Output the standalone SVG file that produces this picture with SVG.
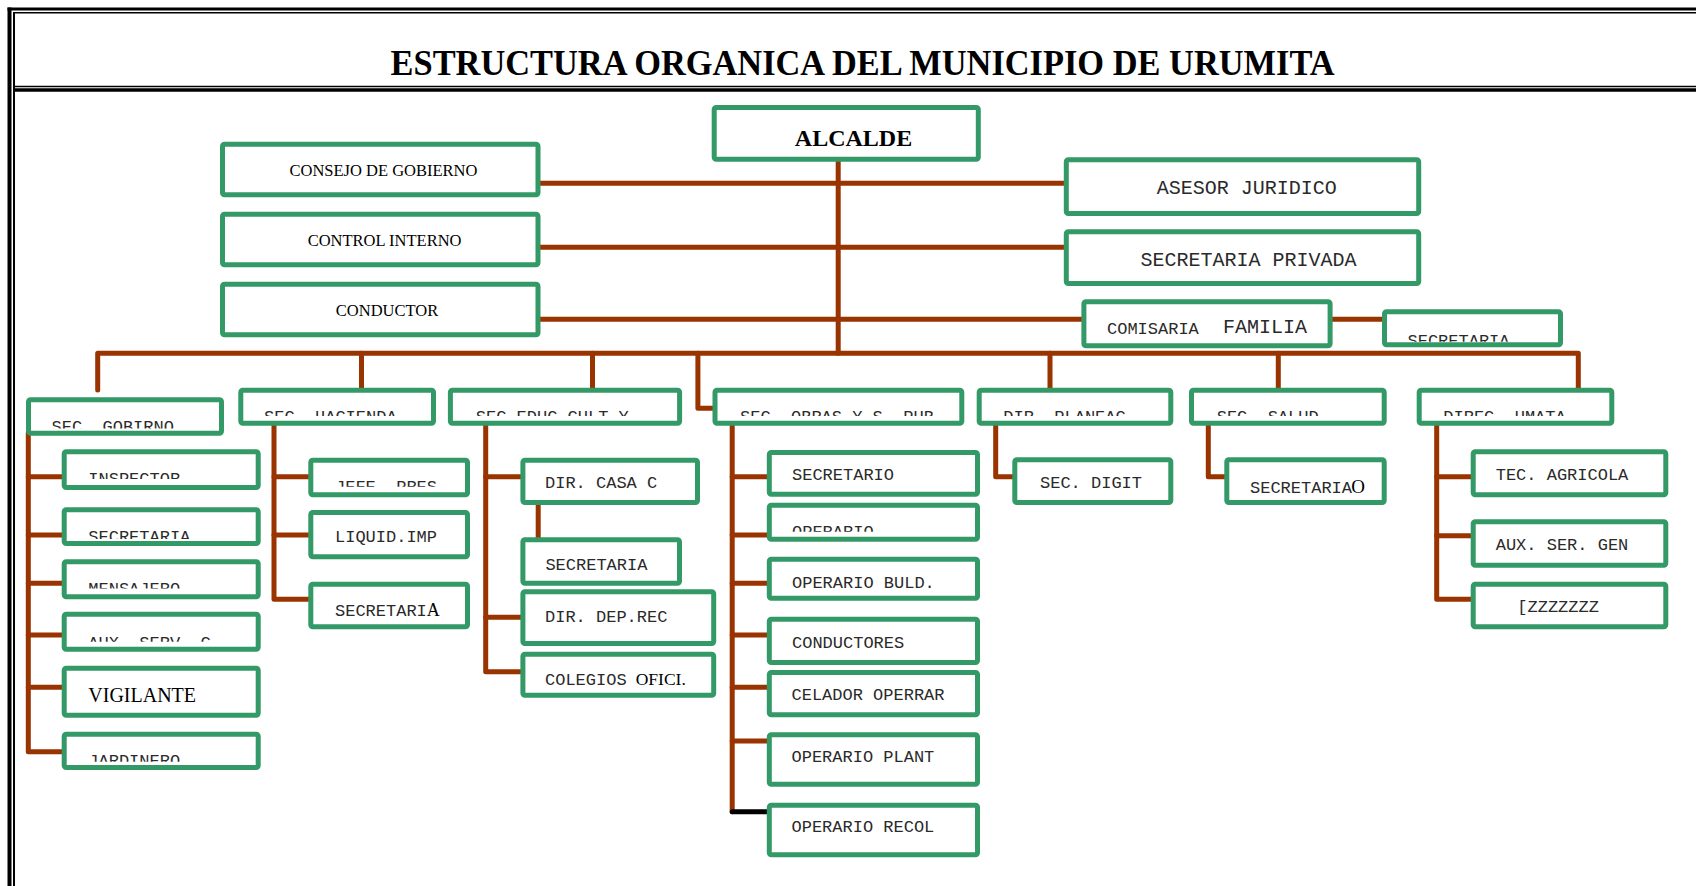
<svg xmlns="http://www.w3.org/2000/svg" width="1696" height="886" viewBox="0 0 1696 886">
<style>
.box{fill:#fff;stroke:#339966;stroke-width:5;}
.ln{stroke:#993300;stroke-width:5;stroke-linecap:round;stroke-linejoin:round;fill:none;}
.fr{stroke:#000;fill:none;}
.m{font-family:"Liberation Mono","Courier New",monospace;font-size:17px;fill:#2a2a2a;}
.mb{font-family:"Liberation Mono","Courier New",monospace;font-size:20px;fill:#2a2a2a;}
.s{font-family:"Liberation Serif","Times New Roman",serif;fill:#000;}
</style>
<defs>
<clipPath id="cGob"><rect x="30" y="401" width="190" height="27.5"/></clipPath>
<clipPath id="cHac"><rect x="242" y="391" width="190" height="25"/></clipPath>
<clipPath id="cEdu"><rect x="452" y="391" width="226" height="25"/></clipPath>
<clipPath id="cObr"><rect x="717" y="391" width="243" height="25"/></clipPath>
<clipPath id="cPla"><rect x="981" y="391" width="188" height="25"/></clipPath>
<clipPath id="cSal"><rect x="1193" y="391" width="189" height="25"/></clipPath>
<clipPath id="cUma"><rect x="1421" y="391" width="189" height="25"/></clipPath>
<clipPath id="cSecC"><rect x="1386" y="313" width="173" height="28.7"/></clipPath>
<clipPath id="cIns"><rect x="66" y="453" width="190" height="26"/></clipPath>
<clipPath id="cSecG"><rect x="66" y="511" width="190" height="28"/></clipPath>
<clipPath id="cMen"><rect x="66" y="563" width="190" height="25.5"/></clipPath>
<clipPath id="cAux"><rect x="66" y="615" width="190" height="26.7"/></clipPath>
<clipPath id="cJar"><rect x="66" y="735" width="190" height="26.7"/></clipPath>
<clipPath id="cJef"><rect x="312" y="461" width="153" height="25.7"/></clipPath>
<clipPath id="cOpe"><rect x="771" y="506" width="204" height="25.7"/></clipPath>
</defs>

<g id="frame">
<line class="fr" x1="7.5" y1="9" x2="1696" y2="9" stroke-width="3"/>
<line class="fr" x1="13" y1="12.8" x2="1696" y2="12.8" stroke-width="1.5"/>
<line class="fr" x1="9.5" y1="7.5" x2="9.5" y2="886" stroke-width="4"/>
<line class="fr" x1="14" y1="12" x2="14" y2="886" stroke-width="2"/>
<line class="fr" x1="13" y1="86.5" x2="1696" y2="86.5" stroke-width="1.5"/>
<line class="fr" x1="13" y1="90" x2="1696" y2="90" stroke-width="3.5"/>
</g>
<text id="title" class="s" x="862.6" y="75" font-size="35" font-weight="bold" text-anchor="middle" textLength="944" lengthAdjust="spacingAndGlyphs">ESTRUCTURA ORGANICA DEL MUNICIPIO DE URUMITA</text>

<g id="connectors">
<path class="ln" d="M838.2 158 V353.3"/>
<path class="ln" d="M537.7 183.3 H1067.7"/>
<path class="ln" d="M537.7 247.3 H1067.7"/>
<path class="ln" d="M537.7 319.3 H1085"/>
<path class="ln" d="M1330 319.3 H1384"/>
<path class="ln" d="M97.7 390 V353.3 H1578.3 V390"/>
<path class="ln" d="M361.5 353.3 V390"/>
<path class="ln" d="M592.5 353.3 V390"/>
<path class="ln" d="M697.9 353.3 V408.3 H714"/>
<path class="ln" d="M1050 353.3 V390"/>
<path class="ln" d="M1278.3 353.3 V389.3"/>
<path class="ln" d="M28.3 433 V751.7 H62"/>
<path class="ln" d="M28.3 476.7 H62 M28.3 535 H62 M28.3 583.3 H62 M28.3 635 H62 M28.3 687.3 H62"/>
<path class="ln" d="M274 423 V599.3 H310"/>
<path class="ln" d="M274 476.7 H310 M274 535 H310"/>
<path class="ln" d="M485.7 423 V671.7 H522"/>
<path class="ln" d="M485.7 476.7 H522 M485.7 617.3 H522"/>
<path class="ln" d="M538.2 503 V540"/>
<path class="ln" d="M732.2 423 V811.7"/>
<path class="ln" d="M732.2 476.7 H769 M732.2 535 H769 M732.2 583.3 H769 M732.2 635 H769 M732.2 687.3 H769 M732.2 741 H769"/>
<path d="M732.2 811.7 H770" stroke="#000" stroke-width="5" stroke-linecap="round"/>
<path class="ln" d="M995.7 421.7 V476.7 H1015"/>
<path class="ln" d="M1208.3 421.7 V476.7 H1226.7"/>
<path class="ln" d="M1436.7 421.7 V599.3 H1471"/>
<path class="ln" d="M1436.7 476.7 H1471 M1436.7 535.7 H1471"/>
</g>

<g id="consejo"><rect class="box" x="222.5" y="144.2" width="315.5" height="50.6" rx="2"/><text class="s" x="383.5" y="176" font-size="16.5" text-anchor="middle">CONSEJO DE GOBIERNO</text></g>
<g id="control"><rect class="box" x="222.5" y="214.2" width="315.5" height="50.6" rx="2"/><text class="s" x="384.6" y="246" font-size="16.5" text-anchor="middle">CONTROL INTERNO</text></g>
<g id="conductor"><rect class="box" x="222.5" y="284.2" width="315.5" height="50.6" rx="2"/><text class="s" x="387" y="316" font-size="16.5" text-anchor="middle">CONDUCTOR</text></g>
<g id="alcalde"><rect class="box" x="714.2" y="107.5" width="264.1" height="51.7" rx="2"/><text class="s" x="853.5" y="146" font-size="24" font-weight="bold" text-anchor="middle">ALCALDE</text></g>
<g id="asesor"><rect class="box" x="1066.3" y="159.8" width="352.4" height="53.7" rx="2"/><text class="mb" x="1246.7" y="194" text-anchor="middle">ASESOR JURIDICO</text></g>
<g id="secprivada"><rect class="box" x="1066.3" y="231.8" width="352.4" height="51.7" rx="2"/><text class="mb" x="1248.6" y="266" text-anchor="middle">SECRETARIA PRIVADA</text></g>
<g id="comisaria"><rect class="box" x="1083.9" y="301.8" width="246.2" height="44" rx="2"/><text class="m" x="1107" y="334">COMISARIA</text><text class="mb" x="1223" y="333.3">FAMILIA</text></g>
<g id="seccomisaria"><rect class="box" x="1384.5" y="311.8" width="176" height="33" rx="2"/><text class="m" x="1407.5" y="346" clip-path="url(#cSecC)">SECRETARIA</text></g>

<g id="secgobierno"><rect class="box" x="28.5" y="399.8" width="193" height="33.4" rx="2"/><text class="m" x="51.5" y="431.5" clip-path="url(#cGob)">SEC. GOBIRNO</text></g>
<g id="sechacienda"><rect class="box" x="240.8" y="390.2" width="192.7" height="33" rx="2"/><text class="m" x="264" y="421.5" clip-path="url(#cHac)">SEC. HACIENDA</text></g>
<g id="seceduc"><rect class="box" x="450.4" y="390.2" width="229.2" height="33" rx="2"/><text class="m" x="475.8" y="421.5" clip-path="url(#cEdu)">SEC.EDUC.CULT.Y</text></g>
<g id="secobras"><rect class="box" x="715" y="390.2" width="246.8" height="33" rx="2"/><text class="m" x="740" y="421.5" clip-path="url(#cObr)">SEC. OBRAS Y S. PUB</text></g>
<g id="dirplaneac"><rect class="box" x="979.2" y="390.2" width="191.6" height="33" rx="2"/><text class="m" x="1003.3" y="421.5" clip-path="url(#cPla)">DIR. PLANEAC</text></g>
<g id="secsalud"><rect class="box" x="1191.5" y="390.2" width="192.7" height="33" rx="2"/><text class="m" x="1216.7" y="421.5" clip-path="url(#cSal)">SEC. SALUD</text></g>
<g id="direcumata"><rect class="box" x="1419.2" y="390.2" width="192.6" height="33" rx="2"/><text class="m" x="1443.3" y="421.5" clip-path="url(#cUma)">DIREC. UMATA</text></g>

<g id="inspector"><rect class="box" x="64.2" y="451.8" width="194" height="35.7" rx="2"/><text class="m" x="88.3" y="484" clip-path="url(#cIns)">INSPECTOR</text></g>
<g id="secgob"><rect class="box" x="64.2" y="509.8" width="194" height="33.7" rx="2"/><text class="m" x="88.3" y="542" clip-path="url(#cSecG)">SECRETARIA</text></g>
<g id="mensajero"><rect class="box" x="64.2" y="561.8" width="194" height="35" rx="2"/><text class="m" x="88.3" y="593.5" clip-path="url(#cMen)">MENSAJERO</text></g>
<g id="auxserv"><rect class="box" x="64.2" y="614.2" width="194" height="35" rx="2"/><text class="m" x="88.3" y="648" clip-path="url(#cAux)">AUX. SERV. C</text></g>
<g id="vigilante"><rect class="box" x="64.2" y="668.2" width="194" height="47" rx="2"/><text class="s" x="88.3" y="701.7" font-size="20">VIGILANTE</text></g>
<g id="jardinero"><rect class="box" x="64.2" y="734.2" width="194" height="33.3" rx="2"/><text class="m" x="88.3" y="765.5" clip-path="url(#cJar)">JARDINERO</text></g>

<g id="jefepres"><rect class="box" x="310.8" y="460.2" width="156.7" height="34.6" rx="2"/><text class="m" x="335" y="492" clip-path="url(#cJef)">JEFE. PRES</text></g>
<g id="liquid"><rect class="box" x="310.8" y="512.5" width="156.7" height="44.3" rx="2"/><text class="m" x="335" y="542.3">LIQUID.IMP</text></g>
<g id="sechac"><rect class="box" x="310.8" y="584.2" width="156.7" height="42.6" rx="2"/><text class="m" x="335" y="616">SECRETARI<tspan class="s" font-size="18">A</tspan></text></g>

<g id="dircasa"><rect class="box" x="522.9" y="460.2" width="174.6" height="42.3" rx="2"/><text class="m" x="545" y="488.3">DIR. CASA C</text></g>
<g id="seceduc2"><rect class="box" x="522.9" y="539.8" width="156.6" height="43.4" rx="2"/><text class="m" x="545.4" y="570">SECRETARIA</text></g>
<g id="dirdeprec"><rect class="box" x="522.9" y="591.8" width="190.8" height="51.7" rx="2"/><text class="m" x="545" y="621.7">DIR. DEP.REC</text></g>
<g id="colegios"><rect class="box" x="522.9" y="654.2" width="190.8" height="41" rx="2"/><text class="m" x="545" y="685">COLEGIOS</text><text class="s" x="635.7" y="685" font-size="17.5">OFICI.</text></g>

<g id="secretario"><rect class="box" x="769.3" y="452.5" width="208.2" height="41.7" rx="2"/><text class="m" x="792" y="480">SECRETARIO</text></g>
<g id="operario"><rect class="box" x="769.3" y="505.2" width="208.2" height="34" rx="2"/><text class="m" x="792" y="537" clip-path="url(#cOpe)">OPERARIO</text></g>
<g id="operariobuld"><rect class="box" x="769.3" y="559.2" width="208.2" height="39" rx="2"/><text class="m" x="792" y="588.3">OPERARIO BULD.</text></g>
<g id="conductores"><rect class="box" x="769.3" y="619.2" width="208.2" height="43.3" rx="2"/><text class="m" x="792" y="648.3">CONDUCTORES</text></g>
<g id="celador"><rect class="box" x="769.3" y="672.5" width="208.2" height="42.3" rx="2"/><text class="m" x="791.5" y="700">CELADOR OPERRAR</text></g>
<g id="operarioplant"><rect class="box" x="769.3" y="734.8" width="208.2" height="49.4" rx="2"/><text class="m" x="791.5" y="762.3">OPERARIO PLANT</text></g>
<g id="operariorecol"><rect class="box" x="769.3" y="805.2" width="208.2" height="49.6" rx="2"/><text class="m" x="791.5" y="832.3">OPERARIO RECOL</text></g>

<g id="secdigit"><rect class="box" x="1014.8" y="459.8" width="156" height="42.7" rx="2"/><text class="m" x="1040" y="488.3">SEC. DIGIT</text></g>
<g id="secsalud2"><rect class="box" x="1226.8" y="459.8" width="157.4" height="42.7" rx="2"/><text class="m" x="1250" y="493.3">SECRETARIA</text><text class="s" x="1351.2" y="493.3" font-size="19">O</text></g>

<g id="tecagricola"><rect class="box" x="1473.2" y="451.8" width="192.6" height="43" rx="2"/><text class="m" x="1495.7" y="480">TEC. AGRICOLA</text></g>
<g id="auxsergen"><rect class="box" x="1473.2" y="521.8" width="192.6" height="43.4" rx="2"/><text class="m" x="1495.7" y="550">AUX. SER. GEN</text></g>
<g id="zzz"><rect class="box" x="1473.2" y="584.2" width="192.6" height="42.6" rx="2"/><text class="m" x="1517.3" y="611.7">[ZZZZZZZ</text></g>
</svg>
